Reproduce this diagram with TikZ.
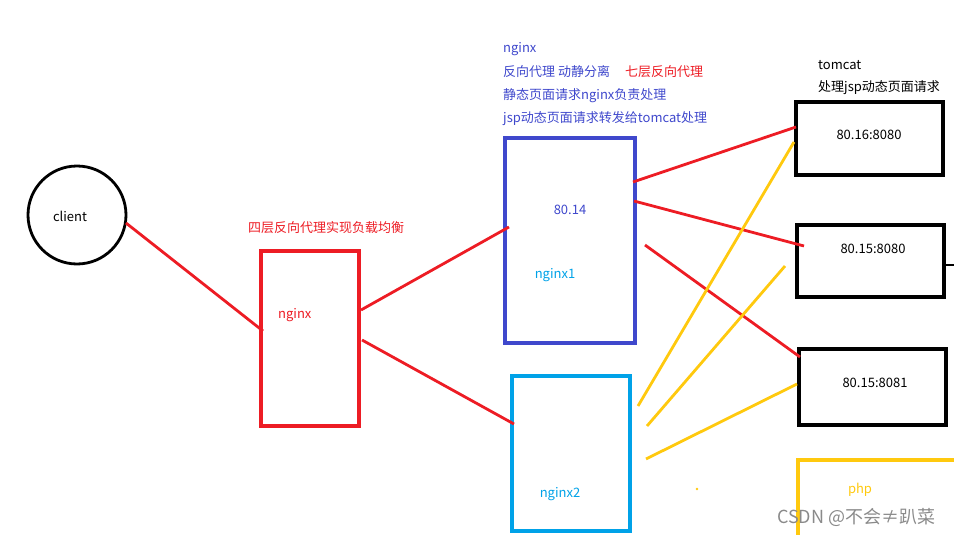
\documentclass[tikz,border=0pt]{standalone}
\usepackage{fontspec}
\setmainfont{Noto Sans CJK SC}
\definecolor{pred}{HTML}{ED1C24}
\definecolor{pindigo}{HTML}{3F48CC}
\definecolor{pcyan}{HTML}{00A2E8}
\definecolor{pgold}{HTML}{FFC90E}
\definecolor{wgray}{HTML}{8A8A8A}
\begin{document}
\begin{tikzpicture}[x=1pt,y=-1pt,
  txt/.style={anchor=west,inner sep=0pt,font=\fontsize{13}{15}\selectfont},
  ctxt/.style={inner sep=0pt,font=\fontsize{13}{15}\selectfont},
  redline/.style={pred,line width=2.8pt},
  goldline/.style={pgold,line width=2.8pt},
  box/.style={line width=3.1pt}]
\useasboundingbox (0,0) rectangle (954,535);
% client
\node[draw=black,line width=2.8pt,circle,minimum size=98pt,inner sep=0pt] (client) at (77,215) {};
\node[ctxt] (clientlbl) at (70,216) {client};
% nginx LB
\draw[box,pred] (261,251) rectangle (359,426);
\node[txt,pred] (lbl) at (248,228) {四层反向代理实现负载均衡};
\node[txt,pred] (nginxlb) at (278,315) {nginx};
% nginx1
\draw[box,pindigo] (505,138) rectangle (635,343);
\node[ctxt,pindigo] (n1ip) at (570,210) {80.14};
\node[ctxt,pcyan] (n1) at (555,275) {nginx1};
% nginx2
\draw[box,pcyan] (512,376) rectangle (630,531);
\node[ctxt,pcyan] (n2) at (560,494) {nginx2};
% tomcat boxes
\draw[box,black] (796,102) rectangle (943,175);
\node[ctxt] (t1) at (869,135) {80.16:8080};
\draw[box,black] (797,225) rectangle (944,297);
\node[ctxt] (t2) at (873,249) {80.15:8080};
\draw[black,line width=2pt] (944,265) -- (954,265);
\draw[box,black] (799,349) rectangle (946,425);
\node[ctxt] (t3) at (875,383) {80.15:8081};
% php
\draw[box,pgold] (954,460) -- (798,460) -- (798,536);
\node[ctxt,pgold] (php) at (860,490) {php};
\fill[pgold] (697,489) circle (1.4pt);
% top texts
\node[txt,pindigo] (a1) at (503,49) {nginx};
\node[txt,pindigo] (a2) at (503,72) {反向代理 动静分离};
\node[txt,pred] (a3) at (625,72) {七层反向代理};
\node[txt,pindigo] (a4) at (503,96) {静态页面请求nginx负责处理};
\node[txt,pindigo] (a5) at (503,119) {jsp动态页面请求转发给tomcat处理};
\node[txt] (b1) at (818,65) {tomcat};
\node[txt] (b2) at (818,88) {处理jsp动态页面请求};
% watermark
\node[txt,wgray,font=\fontsize{18}{20}\selectfont] (wm) at (777,517) {CSDN @不会≠趴菜};
% connector endpoints
\coordinate (c0) at (126,223); \coordinate (c1) at (263,331);
\coordinate (d0) at (361,310); \coordinate (d1) at (509,227);
\coordinate (e0) at (362,340); \coordinate (e1) at (514,424);
\coordinate (f0) at (633,182); \coordinate (f1) at (796,127);
\coordinate (g0) at (634,201); \coordinate (g1) at (804,246);
\coordinate (h0) at (645,245); \coordinate (h1) at (800,357);
\coordinate (i0) at (638,406); \coordinate (i1) at (794,142);
\coordinate (j0) at (647,426); \coordinate (j1) at (785,266);
\coordinate (k0) at (646,459); \coordinate (k1) at (797,384);
\draw[redline] (c0) -- (c1);
\draw[redline] (d0) -- (d1);
\draw[redline] (e0) -- (e1);
\draw[redline] (f0) -- (f1);
\draw[redline] (g0) -- (g1);
\draw[redline] (h0) -- (h1);
\draw[goldline] (i0) -- (i1);
\draw[goldline] (j0) -- (j1);
\draw[goldline] (k0) -- (k1);
\end{tikzpicture}
\end{document}
